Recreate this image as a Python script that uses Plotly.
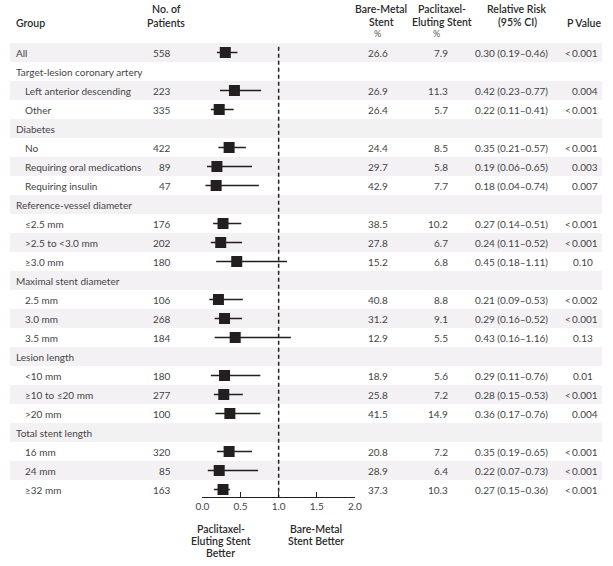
import plotly.graph_objects as go

groups = ["All", "Target-lesion coronary artery", "Left anterior descending", "Other",
          "Diabetes", "No", "Requiring oral medications", "Requiring insulin",
          "Reference-vessel diameter", "≤2.5 mm", ">2.5 to <3.0 mm", "≥3.0 mm",
          "Maximal stent diameter", "2.5 mm", "3.0 mm", "3.5 mm",
          "Lesion length", "<10 mm", "≥10 to ≤20 mm", ">20 mm",
          "Total stent length", "16 mm", "24 mm", "≥32 mm"]
is_sub = [False, False, True, True, False, True, True, True, False, True, True, True,
          False, True, True, True, False, True, True, True, False, True, True, True]
patients = [558, None, 223, 335, None, 422, 89, 47, None, 176, 202, 180,
            None, 106, 268, 184, None, 180, 277, 100, None, 320, 85, 163]
bare_metal = [26.6, None, 26.9, 26.4, None, 24.4, 29.7, 42.9, None, 38.5, 27.8, 15.2,
              None, 40.8, 31.2, 12.9, None, 18.9, 25.8, 41.5, None, 20.8, 28.9, 37.3]
paclitaxel = [7.9, None, 11.3, 5.7, None, 8.5, 5.8, 7.7, None, 10.2, 6.7, 6.8,
              None, 8.8, 9.1, 5.5, None, 5.6, 7.2, 14.9, None, 7.2, 6.4, 10.3]
rr = [0.30, None, 0.42, 0.22, None, 0.35, 0.19, 0.18, None, 0.27, 0.24, 0.45,
      None, 0.21, 0.29, 0.43, None, 0.29, 0.28, 0.36, None, 0.35, 0.22, 0.27]
ci_low = [0.19, None, 0.23, 0.11, None, 0.21, 0.06, 0.04, None, 0.14, 0.11, 0.18,
          None, 0.09, 0.16, 0.16, None, 0.11, 0.15, 0.17, None, 0.19, 0.07, 0.15]
ci_high = [0.46, None, 0.77, 0.41, None, 0.57, 0.65, 0.74, None, 0.51, 0.52, 1.11,
           None, 0.53, 0.52, 1.16, None, 0.76, 0.53, 0.76, None, 0.65, 0.73, 0.36]
p_values = ["<0.001", None, "0.004", "<0.001", None, "<0.001", "0.003", "0.007", None,
            "<0.001", "<0.001", "0.10", None, "<0.002", "<0.001", "0.13", None,
            "0.01", "<0.001", "0.004", None, "<0.001", "<0.001", "<0.001"]
x_ticks = [0.0, 0.5, 1.0, 1.5, 2.0]
x_ticklabels = ["0.0", "0.5", "1.0", "1.5", "2.0"]

W, H = 613, 566
FONT = "Lato"
TXT = "#444444"
HDR = "#2a2a2a"
n = len(groups)
row0_px, row_h = 52.5, 19.0
axis_px = 497.0
y_bottom = (axis_px - row0_px) / row_h
y_top = -row0_px / row_h

def px(x):
    return x / W

def py(y):
    return 1 - y / H

fig = go.Figure()

# CI lines
ci_x, ci_y = [], []
for i in range(n):
    if rr[i] is not None:
        ci_x += [ci_low[i], ci_high[i], None]
        ci_y += [i, i, None]
fig.add_trace(go.Scatter(x=ci_x, y=ci_y, mode="lines",
                         line=dict(color="#231f20", width=1.6),
                         hoverinfo="skip", showlegend=False, cliponaxis=False))
idx = [i for i in range(n) if rr[i] is not None]
fig.add_trace(go.Scatter(x=[rr[i] for i in idx], y=idx, mode="markers",
                         marker=dict(symbol="square", size=11, color="#231f20"),
                         showlegend=False, cliponaxis=False))

shapes = []
for i in range(n):
    if i % 2 == 0:
        shapes.append(dict(type="rect", xref="paper", yref="y", x0=px(3), x1=px(609),
                           y0=i - 0.5, y1=i + 0.5, fillcolor="#f3f1f3",
                           line=dict(width=0), layer="below"))
shapes.append(dict(type="line", xref="x", yref="y", x0=1, x1=1, y0=-0.3, y1=y_bottom,
                   line=dict(color="#231f20", width=1.5, dash="4px,3px"), layer="above"))
fig.update_layout(shapes=shapes)

ann = []
def add(x, y, text, xanchor="left", size=10, color=TXT, yref="y", weight=None):
    f = dict(family=FONT, size=size, color=color)
    if weight:
        f["weight"] = weight
    ann.append(dict(x=px(x), y=y if yref == "y" else py(y), xref="paper", yref=yref,
                    text=text, showarrow=False, xanchor=xanchor, yanchor="middle",
                    font=f, borderpad=0))

for i in range(n):
    add(17 if is_sub[i] else 8, i, groups[i])
    if patients[i] is not None:
        add(169, i, str(patients[i]), xanchor="right")
    if bare_metal[i] is not None:
        add(391, i, f"{bare_metal[i]:.1f}", xanchor="right")
        add(452, i, f"{paclitaxel[i]:.1f}", xanchor="right")
        add(478, i, f"{rr[i]:.2f} ({ci_low[i]:.2f}–{ci_high[i]:.2f})")
        p = p_values[i]
        shift = 0 if (p.startswith("<") or len(p.split(".")[1]) == 3) else 5
        add(606 - shift, i, p.replace("<", "<\u2009"), xanchor="right")

# headers
hb = 600
HS = 10.5
add(8, 23, "Group", yref="paper", color=HDR, size=HS, weight=hb)
add(163, 9, "No. of", xanchor="center", yref="paper", color=HDR, size=HS, weight=hb)
add(163, 23, "Patients", xanchor="center", yref="paper", color=HDR, size=HS, weight=hb)
add(383, 9, "Bare-Metal", xanchor="center", yref="paper", color=HDR, size=HS, weight=hb)
add(383, 22, "Stent", xanchor="center", yref="paper", color=HDR, size=HS, weight=hb)
add(379, 34, "%", xanchor="center", yref="paper", color="#555", size=9)
add(445, 9, "Paclitaxel-", xanchor="center", yref="paper", color=HDR, size=HS, weight=hb)
add(445, 22, "Eluting Stent", xanchor="center", yref="paper", color=HDR, size=HS, weight=hb)
add(440, 34, "%", xanchor="center", yref="paper", color="#555", size=9)
add(522, 9, "Relative Risk", xanchor="center", yref="paper", color=HDR, size=HS, weight=hb)
add(522, 22, "(95% CI)", xanchor="center", yref="paper", color=HDR, size=HS, weight=hb)
add(609, 23, "P Value", xanchor="right", yref="paper", color=HDR, size=HS, weight=hb)

# axis captions
for yy, t in [(529, "Paclitaxel-"), (541, "Eluting Stent"), (553, "Better")]:
    add(219, yy, t, xanchor="center", yref="paper", color=HDR, size=10.5, weight=hb)
for yy, t in [(529, "Bare-Metal"), (541, "Stent Better")]:
    add(316, yy, t, xanchor="center", yref="paper", color=HDR, size=10.5, weight=hb)

fig.update_layout(
    annotations=ann,
    width=W, height=H,
    margin=dict(l=0, r=0, t=0, b=0),
    paper_bgcolor="white", plot_bgcolor="rgba(0,0,0,0)",
    showlegend=False,
    xaxis=dict(domain=[px(200), px(356)], range=[0, 2], tickvals=x_ticks,
               ticktext=x_ticklabels, ticks="inside", ticklen=5, tickwidth=1.2,
               tickcolor="#231f20", showline=True, linecolor="#231f20", linewidth=1.2,
               showgrid=False, zeroline=False,
               tickfont=dict(family=FONT, size=10, color=TXT)),
    yaxis=dict(domain=[py(axis_px), 1], range=[y_bottom, y_top], visible=False,
               showgrid=False, zeroline=False),
)

fig.write_html("out.html", config={"displayModeBar": False},
               post_script="document.body.style.margin='0';document.body.style.overflow='hidden';")
